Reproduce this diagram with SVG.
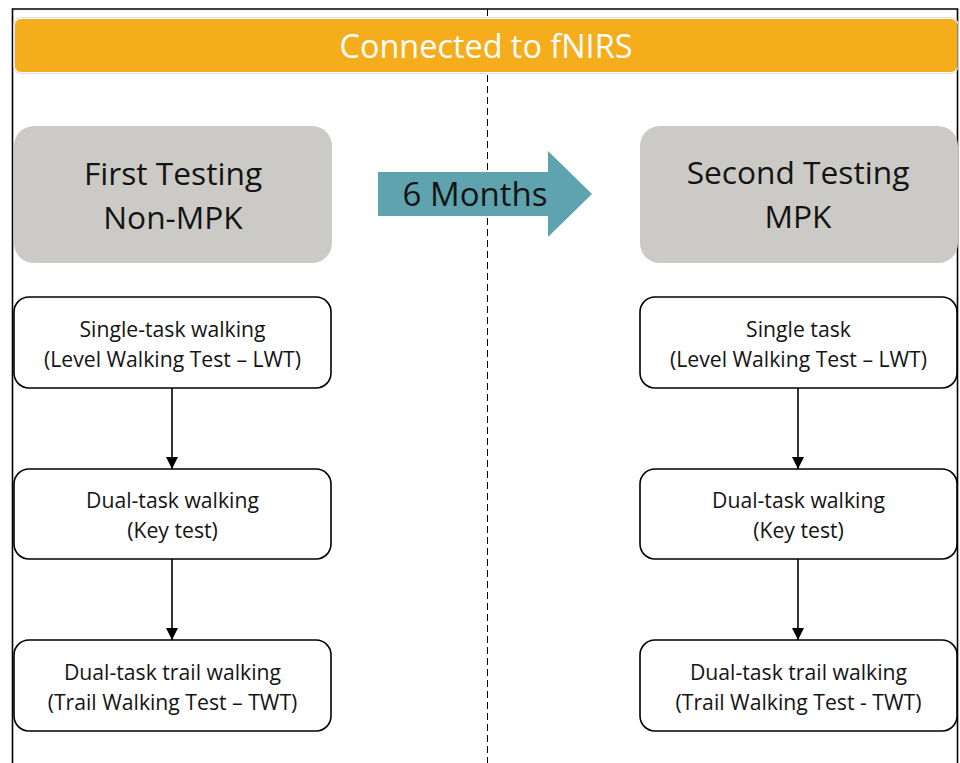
<svg xmlns="http://www.w3.org/2000/svg" width="960" height="763" viewBox="0 0 960 763">
<defs>
<style>
.t{font-family:"Open Sans","Noto Sans","Liberation Sans",sans-serif;text-anchor:middle;fill:#141414}
.s{font-size:21.2px}
.h{font-size:31.7px}
.box{fill:#fff;stroke:#000;stroke-width:1.6}
.gray{fill:#cccac6}
.con{stroke:#000;stroke-width:1.6;fill:none;marker-end:url(#ah)}
</style>
<marker id="ah" viewBox="0 0 10 10" refX="10" refY="5" markerWidth="13" markerHeight="12" markerUnits="userSpaceOnUse" orient="auto">
<path d="M0,0 L10,5 L0,10 z" fill="#000"/>
</marker>
</defs>
<rect width="960" height="763" fill="#fff"/>
<path d="M12.5,763 V9 H957.5 V763" fill="none" stroke="#000" stroke-width="1.6"/>
<line x1="487.5" y1="9" x2="487.5" y2="763" stroke="#000" stroke-width="1" stroke-dasharray="7 4"/>
<g id="banner">
<rect x="14" y="17.5" width="944" height="56" rx="7" fill="none" stroke="#dde0e4" stroke-width="1.2"/>
<rect x="15" y="19" width="942" height="53" rx="6" fill="#f6ad1b"/>
<text class="t" x="486" y="58" font-size="32.4" style="fill:#fff">Connected to fNIRS</text>
</g>
<g id="first">
<rect class="gray" x="14" y="126" width="318" height="137" rx="20"/>
<text class="t h" x="173" y="185">First Testing</text>
<text class="t h" x="173" y="229">Non-MPK</text>
</g>
<g id="second">
<rect class="gray" x="640" y="126" width="318" height="137" rx="20"/>
<text class="t h" x="798" y="184">Second Testing</text>
<text class="t h" x="798" y="228">MPK</text>
</g>
<g id="months">
<path d="M378,172 H548 V151 L592,194 L548,237 V216 H378 Z" fill="#5fa3ae"/>
<text class="t" x="475" y="206" font-size="33">6 Months</text>
</g>
<g id="l1"><rect class="box" x="14" y="297" width="317" height="91" rx="15"/>
<text class="t s" x="172.5" y="337">Single-task walking</text>
<text class="t s" x="172.5" y="367">(Level Walking Test – LWT)</text></g>
<g id="l2"><rect class="box" x="14" y="469" width="317" height="90" rx="15"/>
<text class="t s" x="172.5" y="508">Dual-task walking</text>
<text class="t s" x="172.5" y="538">(Key test)</text></g>
<g id="l3"><rect class="box" x="14" y="640" width="317" height="91" rx="15"/>
<text class="t s" x="172.5" y="680">Dual-task trail walking</text>
<text class="t s" x="172.5" y="710">(Trail Walking Test – TWT)</text></g>
<g id="r1"><rect class="box" x="640" y="297" width="317" height="91" rx="15"/>
<text class="t s" x="798.5" y="337">Single task</text>
<text class="t s" x="798.5" y="367">(Level Walking Test – LWT)</text></g>
<g id="r2"><rect class="box" x="640" y="469" width="317" height="90" rx="15"/>
<text class="t s" x="798.5" y="508">Dual-task walking</text>
<text class="t s" x="798.5" y="538">(Key test)</text></g>
<g id="r3"><rect class="box" x="640" y="640" width="317" height="91" rx="15"/>
<text class="t s" x="798.5" y="680">Dual-task trail walking</text>
<text class="t s" x="798.5" y="710">(Trail Walking Test - TWT)</text></g>
<g id="connectors">
<line class="con" x1="172" y1="388" x2="172" y2="469"/>
<line class="con" x1="172" y1="559" x2="172" y2="640"/>
<line class="con" x1="798" y1="388" x2="798" y2="469"/>
<line class="con" x1="798" y1="559" x2="798" y2="640"/>
</g>
</svg>
